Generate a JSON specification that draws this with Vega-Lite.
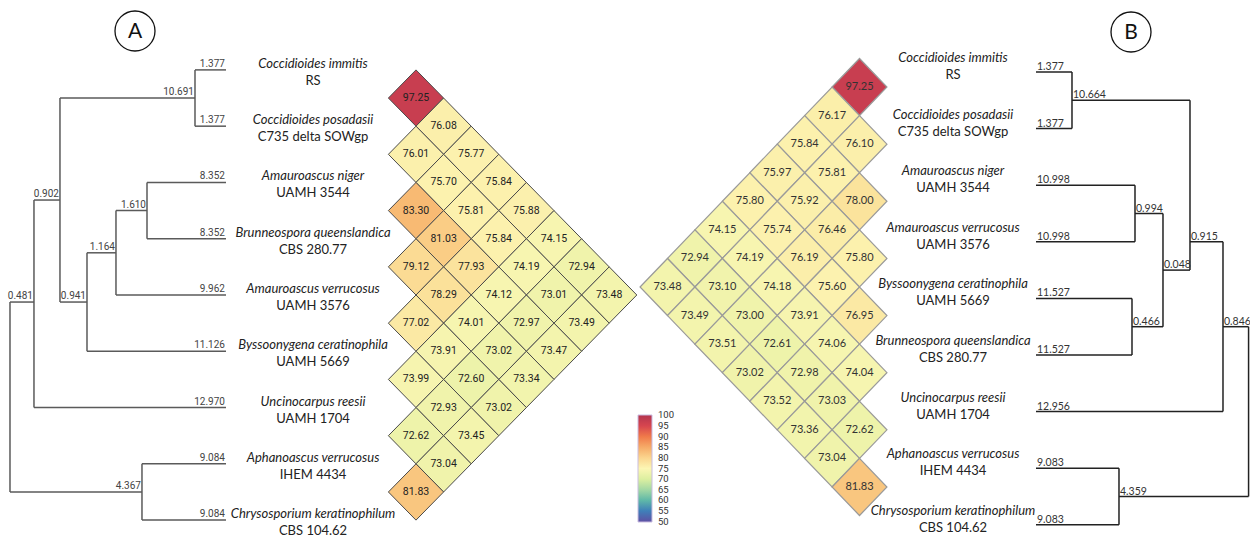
{
  "$schema": "https://vega.github.io/schema/vega-lite/v6.json",
  "width": 1250,
  "height": 537,
  "autosize": {"type": "none"},
  "padding": 0,
  "config": {"view": {"stroke": null}, "font": "Lato"},
  "datasets": {
    "cellsA": [
      {"mid": 0.5, "dist": 1, "value": 97.25},
      {"mid": 1, "dist": 2, "value": 76.08},
      {"mid": 1.5, "dist": 1, "value": 76.01},
      {"mid": 1.5, "dist": 3, "value": 75.77},
      {"mid": 2, "dist": 2, "value": 75.70},
      {"mid": 2, "dist": 4, "value": 75.84},
      {"mid": 2.5, "dist": 1, "value": 83.30},
      {"mid": 2.5, "dist": 3, "value": 75.81},
      {"mid": 2.5, "dist": 5, "value": 75.88},
      {"mid": 3, "dist": 2, "value": 81.03},
      {"mid": 3, "dist": 4, "value": 75.84},
      {"mid": 3, "dist": 6, "value": 74.15},
      {"mid": 3.5, "dist": 1, "value": 79.12},
      {"mid": 3.5, "dist": 3, "value": 77.93},
      {"mid": 3.5, "dist": 5, "value": 74.19},
      {"mid": 3.5, "dist": 7, "value": 72.94},
      {"mid": 4, "dist": 2, "value": 78.29},
      {"mid": 4, "dist": 4, "value": 74.12},
      {"mid": 4, "dist": 6, "value": 73.01},
      {"mid": 4, "dist": 8, "value": 73.48},
      {"mid": 4.5, "dist": 1, "value": 77.02},
      {"mid": 4.5, "dist": 3, "value": 74.01},
      {"mid": 4.5, "dist": 5, "value": 72.97},
      {"mid": 4.5, "dist": 7, "value": 73.49},
      {"mid": 5, "dist": 2, "value": 73.91},
      {"mid": 5, "dist": 4, "value": 73.02},
      {"mid": 5, "dist": 6, "value": 73.47},
      {"mid": 5.5, "dist": 1, "value": 73.99},
      {"mid": 5.5, "dist": 3, "value": 72.60},
      {"mid": 5.5, "dist": 5, "value": 73.34},
      {"mid": 6, "dist": 2, "value": 72.93},
      {"mid": 6, "dist": 4, "value": 73.02},
      {"mid": 6.5, "dist": 1, "value": 72.62},
      {"mid": 6.5, "dist": 3, "value": 73.45},
      {"mid": 7, "dist": 2, "value": 73.04},
      {"mid": 7.5, "dist": 1, "value": 81.83}
    ],
    "cellsB": [
      {"mid": 0.5, "dist": 1, "value": 97.25},
      {"mid": 1, "dist": 2, "value": 76.17},
      {"mid": 1.5, "dist": 3, "value": 75.84},
      {"mid": 1.5, "dist": 1, "value": 76.10},
      {"mid": 2, "dist": 4, "value": 75.97},
      {"mid": 2, "dist": 2, "value": 75.81},
      {"mid": 2.5, "dist": 5, "value": 75.80},
      {"mid": 2.5, "dist": 3, "value": 75.92},
      {"mid": 2.5, "dist": 1, "value": 78.00},
      {"mid": 3, "dist": 6, "value": 74.15},
      {"mid": 3, "dist": 4, "value": 75.74},
      {"mid": 3, "dist": 2, "value": 76.46},
      {"mid": 3.5, "dist": 7, "value": 72.94},
      {"mid": 3.5, "dist": 5, "value": 74.19},
      {"mid": 3.5, "dist": 3, "value": 76.19},
      {"mid": 3.5, "dist": 1, "value": 75.80},
      {"mid": 4, "dist": 8, "value": 73.48},
      {"mid": 4, "dist": 6, "value": 73.10},
      {"mid": 4, "dist": 4, "value": 74.18},
      {"mid": 4, "dist": 2, "value": 75.60},
      {"mid": 4.5, "dist": 7, "value": 73.49},
      {"mid": 4.5, "dist": 5, "value": 73.00},
      {"mid": 4.5, "dist": 3, "value": 73.91},
      {"mid": 4.5, "dist": 1, "value": 76.95},
      {"mid": 5, "dist": 6, "value": 73.51},
      {"mid": 5, "dist": 4, "value": 72.61},
      {"mid": 5, "dist": 2, "value": 74.06},
      {"mid": 5.5, "dist": 5, "value": 73.02},
      {"mid": 5.5, "dist": 3, "value": 72.98},
      {"mid": 5.5, "dist": 1, "value": 74.04},
      {"mid": 6, "dist": 4, "value": 73.52},
      {"mid": 6, "dist": 2, "value": 73.03},
      {"mid": 6.5, "dist": 3, "value": 73.36},
      {"mid": 6.5, "dist": 1, "value": 72.62},
      {"mid": 7, "dist": 2, "value": 73.04},
      {"mid": 7.5, "dist": 1, "value": 81.83}
    ],
    "taxaA": [
      {"idx": 0, "name": "Coccidioides immitis", "strain": "RS"},
      {"idx": 1, "name": "Coccidioides posadasii", "strain": "C735 delta SOWgp"},
      {"idx": 2, "name": "Amauroascus niger", "strain": "UAMH 3544"},
      {"idx": 3, "name": "Brunneospora queenslandica", "strain": "CBS 280.77"},
      {"idx": 4, "name": "Amauroascus verrucosus", "strain": "UAMH 3576"},
      {"idx": 5, "name": "Byssoonygena ceratinophila", "strain": "UAMH 5669"},
      {"idx": 6, "name": "Uncinocarpus reesii", "strain": "UAMH 1704"},
      {"idx": 7, "name": "Aphanoascus verrucosus", "strain": "IHEM 4434"},
      {"idx": 8, "name": "Chrysosporium keratinophilum", "strain": "CBS 104.62"}
    ],
    "taxaB": [
      {"idx": 0, "name": "Coccidioides immitis", "strain": "RS"},
      {"idx": 1, "name": "Coccidioides posadasii", "strain": "C735 delta SOWgp"},
      {"idx": 2, "name": "Amauroascus niger", "strain": "UAMH 3544"},
      {"idx": 3, "name": "Amauroascus verrucosus", "strain": "UAMH 3576"},
      {"idx": 4, "name": "Byssoonygena ceratinophila", "strain": "UAMH 5669"},
      {"idx": 5, "name": "Brunneospora queenslandica", "strain": "CBS 280.77"},
      {"idx": 6, "name": "Uncinocarpus reesii", "strain": "UAMH 1704"},
      {"idx": 7, "name": "Aphanoascus verrucosus", "strain": "IHEM 4434"},
      {"idx": 8, "name": "Chrysosporium keratinophilum", "strain": "CBS 104.62"}
    ],
    "treeA": [
      {"x1": -7.007, "x2": -5.884, "y1": 0, "y2": 0, "lbl": "1.377"},
      {"x1": -7.007, "x2": -5.884, "y1": 1, "y2": 1, "lbl": "1.377"},
      {"x1": -11.899, "x2": -7.007, "y1": 0.5, "y2": 0.5, "lbl": "10.691"},
      {"x1": -8.746, "x2": -5.884, "y1": 2, "y2": 2, "lbl": "8.352"},
      {"x1": -8.746, "x2": -5.884, "y1": 3, "y2": 3, "lbl": "8.352"},
      {"x1": -9.87, "x2": -8.746, "y1": 2.5, "y2": 2.5, "lbl": "1.610"},
      {"x1": -9.87, "x2": -5.884, "y1": 4, "y2": 4, "lbl": "9.962"},
      {"x1": -10.92, "x2": -9.87, "y1": 3.25, "y2": 3.25, "lbl": "1.164"},
      {"x1": -10.92, "x2": -5.884, "y1": 5, "y2": 5, "lbl": "11.126"},
      {"x1": -11.899, "x2": -10.92, "y1": 4.125, "y2": 4.125, "lbl": "0.941"},
      {"x1": -12.841, "x2": -11.899, "y1": 2.3125, "y2": 2.3125, "lbl": "0.902"},
      {"x1": -12.841, "x2": -5.884, "y1": 6, "y2": 6, "lbl": "12.970"},
      {"x1": -13.71, "x2": -12.841, "y1": 4.125, "y2": 4.125, "lbl": "0.481"},
      {"x1": -8.928, "x2": -5.884, "y1": 7, "y2": 7, "lbl": "9.084"},
      {"x1": -8.928, "x2": -5.884, "y1": 8, "y2": 8, "lbl": "9.084"},
      {"x1": -13.71, "x2": -8.928, "y1": 7.5, "y2": 7.5, "lbl": "4.367"},
      {"x1": -7.007, "x2": -7.007, "y1": 0, "y2": 1},
      {"x1": -8.746, "x2": -8.746, "y1": 2, "y2": 3},
      {"x1": -9.87, "x2": -9.87, "y1": 2.5, "y2": 4},
      {"x1": -10.92, "x2": -10.92, "y1": 3.25, "y2": 5},
      {"x1": -11.899, "x2": -11.899, "y1": 0.5, "y2": 4.125},
      {"x1": -12.841, "x2": -12.841, "y1": 2.3125, "y2": 6},
      {"x1": -8.928, "x2": -8.928, "y1": 7, "y2": 8},
      {"x1": -13.71, "x2": -13.71, "y1": 4.125, "y2": 7.5}
    ],
    "treeB": [
      {"x1": 0, "x2": 1.309, "y1": 0, "y2": 0, "lbl": "1.377"},
      {"x1": 0, "x2": 1.309, "y1": 1, "y2": 1, "lbl": "1.377"},
      {"x1": 1.309, "x2": 5.6, "y1": 0.5, "y2": 0.5, "lbl": "10.664"},
      {"x1": 0, "x2": 3.6, "y1": 2, "y2": 2, "lbl": "10.998"},
      {"x1": 0, "x2": 3.6, "y1": 3, "y2": 3, "lbl": "10.998"},
      {"x1": 3.6, "x2": 4.618, "y1": 2.5, "y2": 2.5, "lbl": "0.994"},
      {"x1": 0, "x2": 3.491, "y1": 4, "y2": 4, "lbl": "11.527"},
      {"x1": 0, "x2": 3.491, "y1": 5, "y2": 5, "lbl": "11.527"},
      {"x1": 3.491, "x2": 4.618, "y1": 4.5, "y2": 4.5, "lbl": "0.466"},
      {"x1": 4.618, "x2": 5.6, "y1": 3.5, "y2": 3.5, "lbl": "0.048"},
      {"x1": 5.6, "x2": 6.8, "y1": 3.0, "y2": 3.0, "lbl": "0.915"},
      {"x1": 0, "x2": 6.8, "y1": 6, "y2": 6, "lbl": "12.956"},
      {"x1": 6.8, "x2": 7.73, "y1": 4.5, "y2": 4.5, "lbl": "0.846"},
      {"x1": 0, "x2": 3.018, "y1": 7, "y2": 7, "lbl": "9.083"},
      {"x1": 0, "x2": 3.018, "y1": 8, "y2": 8, "lbl": "9.083"},
      {"x1": 3.018, "x2": 7.73, "y1": 7.5, "y2": 7.5, "lbl": "4.359"},
      {"x1": 1.309, "x2": 1.309, "y1": 0, "y2": 1},
      {"x1": 3.6, "x2": 3.6, "y1": 2, "y2": 3},
      {"x1": 3.491, "x2": 3.491, "y1": 4, "y2": 5},
      {"x1": 4.618, "x2": 4.618, "y1": 2.5, "y2": 4.5},
      {"x1": 5.6, "x2": 5.6, "y1": 0.5, "y2": 3.5},
      {"x1": 6.8, "x2": 6.8, "y1": 3.0, "y2": 6},
      {"x1": 3.018, "x2": 3.018, "y1": 7, "y2": 8},
      {"x1": 7.73, "x2": 7.73, "y1": 4.5, "y2": 7.5}
    ],
    "panelA": [{"label": "A", "x": -9.181, "y": -0.691}],
    "panelB": [{"label": "B", "x": 3.455, "y": -0.707}]
  },
  "layer": [
    {
      "layer": [
        {
          "data": {"name": "treeA"},
          "mark": {"type": "rule", "stroke": "#5a5a5a", "strokeWidth": 1.5},
          "encoding": {
            "x": {"field": "x1", "type": "quantitative", "scale": {"domain": [-14.072, 31.217], "nice": false, "zero": false}, "axis": null},
            "x2": {"field": "x2"},
            "y": {"field": "y1", "type": "quantitative", "scale": {"domain": [-1.242, 8.3], "reverse": true, "nice": false, "zero": false}, "axis": null},
            "y2": {"field": "y2"}
          }
        },
        {
          "data": {"name": "treeA"},
          "transform": [{"filter": "isValid(datum.lbl)"}],
          "mark": {"type": "text", "align": "right", "baseline": "bottom", "dy": -1, "dx": -1, "font": "Roboto", "fontSize": 10, "fill": "#444"},
          "encoding": {
            "x": {"field": "x2", "type": "quantitative", "axis": null},
            "y": {"field": "y1", "type": "quantitative", "axis": null},
            "text": {"field": "lbl"}
          }
        },
        {
          "data": {"name": "taxaA"},
          "mark": {"type": "text", "align": "center", "baseline": "middle", "dy": -6, "fontStyle": "italic", "font": "Lato", "fontSize": 13, "fill": "#222"},
          "encoding": {
            "x": {"datum": -2.73, "type": "quantitative", "axis": null},
            "y": {"field": "idx", "type": "quantitative", "axis": null},
            "text": {"field": "name"}
          }
        },
        {
          "data": {"name": "taxaA"},
          "mark": {"type": "text", "align": "center", "baseline": "middle", "dy": 11, "font": "Lato", "fontSize": 13, "fill": "#222"},
          "encoding": {
            "x": {"datum": -2.73, "type": "quantitative", "axis": null},
            "y": {"field": "idx", "type": "quantitative", "axis": null},
            "text": {"field": "strain"}
          }
        },
        {
          "data": {"name": "cellsA"},
          "mark": {"type": "point", "shape": "M-1,0L0,-1.02L1,0L0,1.02Z", "size": 3047, "filled": true, "opacity": 1, "stroke": "#4a4a4a", "strokeWidth": 1, "strokeOpacity": 1},
          "encoding": {
            "x": {"field": "dist", "type": "quantitative", "axis": null},
            "y": {"field": "mid", "type": "quantitative", "axis": null},
            "color": {"field": "value", "type": "quantitative", "scale": {"domain": [49.8, 55, 60, 65, 70, 75, 80, 85, 90, 95, 100.2], "range": ["#5e4fa2", "#3f7fb9", "#5fb8a8", "#a3d8a4", "#dcefa0", "#fcf6b4", "#fbd58e", "#f6ab68", "#f07a4a", "#d7464f", "#b3344f"]}, "legend": {"orient": "none", "legendX": 638, "legendY": 415, "direction": "vertical", "gradientLength": 107, "gradientThickness": 14, "title": null, "padding": 0, "values": [50, 55, 60, 65, 70, 75, 80, 85, 90, 95, 100], "labelFont": "Roboto", "labelFontSize": 9.5, "labelColor": "#333", "labelOffset": 6, "labelOverlap": false, "gradientStrokeColor": "#c9bde0", "gradientStrokeWidth": 1}}
          }
        },
        {
          "data": {"name": "cellsA"},
          "mark": {"type": "text", "align": "center", "baseline": "middle", "font": "Roboto", "fontSize": 10.5, "fill": "#222"},
          "encoding": {
            "x": {"field": "dist", "type": "quantitative", "axis": null},
            "y": {"field": "mid", "type": "quantitative", "axis": null},
            "text": {"field": "value", "type": "quantitative", "format": ".2f"}
          }
        },
        {
          "data": {"name": "panelA"},
          "mark": {"type": "point", "shape": "circle", "filled": false, "size": 1600, "stroke": "#111", "strokeWidth": 1.3, "opacity": 1},
          "encoding": {
            "x": {"field": "x", "type": "quantitative", "axis": null},
            "y": {"field": "y", "type": "quantitative", "axis": null}
          }
        },
        {
          "data": {"name": "panelA"},
          "mark": {"type": "text", "align": "center", "baseline": "middle", "dy": 1, "font": "Lato", "fontSize": 21, "fill": "#111"},
          "encoding": {
            "x": {"field": "x", "type": "quantitative", "axis": null},
            "y": {"field": "y", "type": "quantitative", "axis": null},
            "text": {"field": "label"}
          }
        }
      ]
    },
    {
      "layer": [
        {
          "data": {"name": "cellsB"},
          "mark": {"type": "point", "shape": "M-1,0L0,-1.04L1,0L0,1.04Z", "size": 3010, "filled": true, "opacity": 1, "stroke": "#9a9a9a", "strokeWidth": 1.2, "strokeOpacity": 1},
          "encoding": {
            "x": {"field": "dist", "type": "quantitative", "scale": {"domain": [-13.236, 32.334], "reverse": true, "nice": false, "zero": false}, "axis": null},
            "y": {"field": "mid", "type": "quantitative", "scale": {"domain": [-1.0226, 8.3753], "reverse": true, "nice": false, "zero": false}, "axis": null},
            "color": {"field": "value", "type": "quantitative", "scale": {"domain": [49.8, 55, 60, 65, 70, 75, 80, 85, 90, 95, 100.2], "range": ["#5e4fa2", "#3f7fb9", "#5fb8a8", "#a3d8a4", "#dcefa0", "#fcf6b4", "#fbd58e", "#f6ab68", "#f07a4a", "#d7464f", "#b3344f"]}, "legend": {"orient": "none", "legendX": 638, "legendY": 415, "direction": "vertical", "gradientLength": 107, "gradientThickness": 14, "title": null, "padding": 0, "values": [50, 55, 60, 65, 70, 75, 80, 85, 90, 95, 100], "labelFont": "Roboto", "labelFontSize": 9.5, "labelColor": "#333", "labelOffset": 6, "labelOverlap": false, "gradientStrokeColor": "#c9bde0", "gradientStrokeWidth": 1}}
          }
        },
        {
          "data": {"name": "cellsB"},
          "mark": {"type": "text", "align": "center", "baseline": "middle", "font": "Lato", "fontSize": 11, "fill": "#333"},
          "encoding": {
            "x": {"field": "dist", "type": "quantitative", "axis": null},
            "y": {"field": "mid", "type": "quantitative", "axis": null},
            "text": {"field": "value", "type": "quantitative", "format": ".2f"}
          }
        }
      ]
    },
    {
      "layer": [
        {
          "data": {"name": "treeB"},
          "mark": {"type": "rule", "stroke": "#222", "strokeWidth": 1.5},
          "encoding": {
            "x": {"field": "x1", "type": "quantitative", "scale": {"domain": [-37.673, 7.782], "nice": false, "zero": false}, "axis": null},
            "x2": {"field": "x2"},
            "y": {"field": "y1", "type": "quantitative", "scale": {"domain": [-1.2721, 8.2155], "reverse": true, "nice": false, "zero": false}, "axis": null},
            "y2": {"field": "y2"}
          }
        },
        {
          "data": {"name": "treeB"},
          "transform": [{"filter": "isValid(datum.lbl)"}],
          "mark": {"type": "text", "align": "left", "baseline": "bottom", "dy": 0, "dx": 1, "font": "Lato", "fontSize": 10.5, "fill": "#333"},
          "encoding": {
            "x": {"field": "x1", "type": "quantitative", "axis": null},
            "y": {"field": "y1", "type": "quantitative", "axis": null},
            "text": {"field": "lbl"}
          }
        },
        {
          "data": {"name": "taxaB"},
          "mark": {"type": "text", "align": "center", "baseline": "middle", "dy": -14, "fontStyle": "italic", "font": "Lato", "fontSize": 13, "fill": "#222"},
          "encoding": {
            "x": {"datum": -3.018, "type": "quantitative", "axis": null},
            "y": {"field": "idx", "type": "quantitative", "axis": null},
            "text": {"field": "name"}
          }
        },
        {
          "data": {"name": "taxaB"},
          "mark": {"type": "text", "align": "center", "baseline": "middle", "dy": 3, "font": "Lato", "fontSize": 13, "fill": "#222"},
          "encoding": {
            "x": {"datum": -3.018, "type": "quantitative", "axis": null},
            "y": {"field": "idx", "type": "quantitative", "axis": null},
            "text": {"field": "strain"}
          }
        },
        {
          "data": {"name": "panelB"},
          "mark": {"type": "point", "shape": "circle", "filled": false, "size": 1600, "stroke": "#111", "strokeWidth": 1.3, "opacity": 1},
          "encoding": {
            "x": {"field": "x", "type": "quantitative", "axis": null},
            "y": {"field": "y", "type": "quantitative", "axis": null}
          }
        },
        {
          "data": {"name": "panelB"},
          "mark": {"type": "text", "align": "center", "baseline": "middle", "dy": 1, "font": "Lato", "fontSize": 21, "fill": "#111"},
          "encoding": {
            "x": {"field": "x", "type": "quantitative", "axis": null},
            "y": {"field": "y", "type": "quantitative", "axis": null},
            "text": {"field": "label"}
          }
        }
      ]
    }
  ],
  "resolve": {"scale": {"x": "independent", "y": "independent"}}
}
